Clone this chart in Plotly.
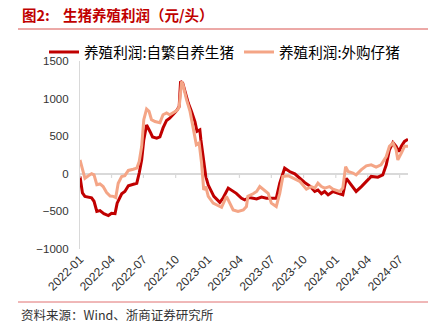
import plotly.graph_objects as go

# ---- data ----
self_dates = ["2022-01-01","2022-01-08","2022-01-15","2022-02-03","2022-02-10","2022-02-18","2022-02-27",
    "2022-03-10","2022-03-23","2022-04-01","2022-04-11","2022-04-17","2022-04-30","2022-05-09","2022-05-19",
    "2022-06-02","2022-06-12","2022-06-19","2022-06-26","2022-07-02","2022-07-10","2022-07-20","2022-07-27",
    "2022-08-08","2022-08-17","2022-08-26","2022-09-05","2022-09-14","2022-09-24","2022-10-04","2022-10-11",
    "2022-10-15","2022-10-21","2022-10-27","2022-11-06","2022-11-15","2022-11-25","2022-12-01","2022-12-09",
    "2022-12-12","2022-12-20","2022-12-26","2023-01-02","2023-01-09","2023-01-18","2023-02-04","2023-02-13",
    "2023-02-28","2023-03-09","2023-03-23","2023-04-07","2023-04-16","2023-04-30","2023-05-20","2023-06-03",
    "2023-06-17","2023-07-15","2023-07-25","2023-08-08","2023-08-22","2023-09-06","2023-09-20","2023-10-04",
    "2023-10-18","2023-11-02","2023-11-11","2023-11-21","2023-11-30","2023-12-10","2023-12-24","2024-01-07",
    "2024-01-21","2024-01-31","2024-02-14","2024-02-28","2024-03-14","2024-03-28","2024-04-11","2024-04-30",
    "2024-05-14","2024-05-24","2024-06-02","2024-06-12","2024-06-21","2024-06-29","2024-07-06","2024-07-15",
    "2024-07-25"]
self_vals = [-35,-255,-300,-320,-365,-500,-490,
    -530,-555,-525,-530,-390,-265,-235,-160,
    -145,-125,10,185,450,650,560,490,
    475,490,610,710,740,785,840,895,
    1230,1205,1095,940,830,695,565,585,
    450,140,-35,-150,-220,-300,-380,-325,
    -190,-215,-260,-325,-345,-315,-335,-310,
    -325,-325,-125,75,30,0,-60,-115,
    -160,-235,-215,-265,-235,-280,-235,-260,
    -280,-60,-145,-235,-170,-100,-35,-45,
    -15,120,320,415,365,295,365,430,
    460]

buy_dates = ["2022-01-01","2022-01-08","2022-01-15","2022-01-25","2022-02-03","2022-02-10","2022-02-18",
    "2022-02-27","2022-03-08","2022-03-18","2022-03-28","2022-04-06","2022-04-13","2022-04-20","2022-04-30",
    "2022-05-09","2022-05-19","2022-06-02","2022-06-12","2022-06-19","2022-06-26","2022-07-02","2022-07-10",
    "2022-07-17","2022-07-24","2022-08-03","2022-08-17","2022-08-26","2022-09-05","2022-09-14","2022-09-24",
    "2022-10-04","2022-10-11","2022-10-18","2022-10-22","2022-11-01","2022-11-11","2022-11-20","2022-11-29",
    "2022-12-07","2022-12-14","2022-12-20","2022-12-26","2023-01-02","2023-01-11","2023-01-16","2023-02-04",
    "2023-02-09","2023-02-23","2023-03-14","2023-03-28","2023-04-12","2023-04-21","2023-04-25","2023-05-10",
    "2023-05-20","2023-05-29","2023-06-07","2023-06-22","2023-07-01","2023-07-15","2023-07-25","2023-08-03",
    "2023-08-18","2023-09-01","2023-09-20","2023-10-09","2023-10-23","2023-11-02","2023-11-11","2023-11-21",
    "2023-11-30","2023-12-14","2023-12-24","2024-01-12","2024-01-21","2024-01-29","2024-02-05","2024-02-19",
    "2024-02-28","2024-03-14","2024-03-28","2024-04-11","2024-04-25","2024-05-09","2024-05-24","2024-06-02",
    "2024-06-12","2024-06-21","2024-06-26","2024-07-06","2024-07-15","2024-07-25"]
buy_vals = [185,55,-60,-25,0,-15,-145,
    -135,-170,-250,-295,-300,-315,-125,-35,
    -25,45,60,75,165,365,720,860,
    830,720,695,680,785,810,785,810,
    840,885,1230,1185,985,830,630,385,
    410,140,-215,-170,-300,-365,-390,-435,
    -445,-300,-480,-500,-480,-435,-300,-265,
    -235,-170,-205,-260,-390,-435,-260,-35,
    -25,-60,-100,-205,-170,-190,-125,-170,
    -190,-170,-205,-235,-190,95,30,10,
    -15,55,105,120,90,120,230,365,
    410,320,185,275,365,365]

series_names = ["养殖利润:自繁自养生猪", "养殖利润:外购仔猪"]
tick_dates = ["2022-01-01","2022-04-01","2022-07-01","2022-10-01","2023-01-01","2023-04-01",
              "2023-07-01","2023-10-01","2024-01-01","2024-04-01","2024-07-01"]
tick_labels = ["2022-01","2022-04","2022-07","2022-10","2023-01","2023-04",
               "2023-07","2023-10","2024-01","2024-04","2024-07"]
y_ticks = [-1000, -500, 0, 500, 1000, 1500]
title_prefix = "图2:"
title_text = "生猪养殖利润（元/头）"
source_text = "资料来源：Wind、浙商证券研究所"

# ---- layout geometry (pixels) ----
W, H = 440, 323
L, R, T, B = 80, 408, 61, 249
def px(x):
    return (x - L) / (R - L)
def py(y):
    return (B - y) / (B - T)

CJK = "Noto Sans CJK SC"
NUM = "Liberation Sans, Arial"

fig = go.Figure()
fig.add_trace(go.Scatter(x=self_dates, y=self_vals, mode="lines", name=series_names[0],
                         line=dict(color="#C00000", width=3)))
fig.add_trace(go.Scatter(x=buy_dates, y=buy_vals, mode="lines", name=series_names[1],
                         line=dict(color="#F4A586", width=3)))

shapes = []
# title underline and bottom rule
shapes.append(dict(type="line", xref="paper", yref="paper", x0=px(18), x1=px(428), y0=py(29), y1=py(29),
                   line=dict(color="#D9534F", width=1)))
shapes.append(dict(type="line", xref="paper", yref="paper", x0=px(18), x1=px(428), y0=py(302), y1=py(302),
                   line=dict(color="#E07070", width=1)))
# tick marks on the zero line
for d in tick_dates:
    shapes.append(dict(type="line", xref="x", yref="y", x0=d, x1=d, y0=0, y1=-55,
                       line=dict(color="#D9D9D9", width=1.2)))

fig.update_layout(
    width=W, height=H,
    margin=dict(l=L, r=W - R, t=T, b=H - B),
    paper_bgcolor="white", plot_bgcolor="white",
    showlegend=True,
    legend=dict(orientation="h", x=px(44), xanchor="left", y=py(36), yanchor="top",
                font=dict(family=CJK, size=14.6, color="#000000"),
                itemwidth=30,
                bgcolor="rgba(0,0,0,0)", tracegroupgap=0),
    shapes=shapes,
    annotations=[
        dict(text=f"<b>{title_prefix}</b>", xref="paper", yref="paper", x=px(20), y=py(15),
             xanchor="left", yanchor="middle", showarrow=False,
             font=dict(family=CJK, size=14.5, color="#C00000")),
        dict(text=f"<b>{title_text}</b>", xref="paper", yref="paper", x=px(61), y=py(15),
             xanchor="left", yanchor="middle", showarrow=False,
             font=dict(family=CJK, size=14.5, color="#C00000")),
        dict(text=source_text, xref="paper", yref="paper", x=px(19), y=py(314),
             xanchor="left", yanchor="middle", showarrow=False,
             font=dict(family=CJK, size=12.5, color="#333333")),
    ],
    xaxis=dict(type="date", range=["2022-01-01", "2024-07-25"], tickvals=tick_dates, ticktext=tick_labels,
               tickangle=-45, showgrid=False, zeroline=False, showline=False, ticks="",
               tickfont=dict(family=NUM, size=12, color="#333333")),
    yaxis=dict(range=[-1000, 1500], tickvals=y_ticks, showgrid=False,
               zeroline=True, zerolinecolor="#D9D9D9", zerolinewidth=1.5,
               showline=True, linecolor="#D9D9D9", linewidth=1.2, ticks="",
               ticklabelstandoff=8,
               tickfont=dict(family=NUM, size=11.5, color="#333333")),
)

fig.write_html("out.html")
